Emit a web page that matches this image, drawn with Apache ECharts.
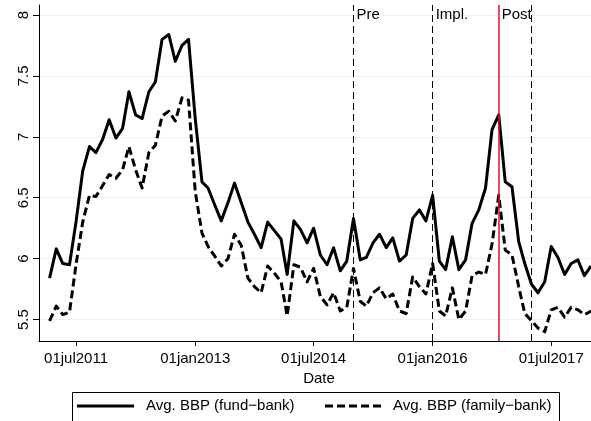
<!DOCTYPE html>
<html>
<head>
<meta charset="utf-8">
<script src="https://cdn.jsdelivr.net/npm/echarts@6/dist/echarts.min.js"></script>
<style>
  html, body { margin: 0; padding: 0; background: #fff; }
  #chart { width: 591px; height: 421px; }
</style>
</head>
<body>
<div id="chart"></div>
<script>
// Monthly averages, March 2011 through January 2018
const firstMonth = { year: 2011, month: 3 };

const fundBank = [
  5.84, 6.08, 5.96, 5.95, 6.30, 6.72, 6.92, 6.87, 6.98, 7.14,             // 2011 (Mar-Dec)
  6.99, 7.07, 7.37, 7.18, 7.15, 7.37, 7.45, 7.80, 7.84, 7.62, 7.75, 7.80, // 2012
  7.15, 6.63, 6.58, 6.44, 6.31, 6.46, 6.62, 6.46, 6.30, 6.20, 6.09, 6.30, // 2013
  6.23, 6.16, 5.87, 6.31, 6.24, 6.13, 6.25, 6.03, 5.95, 6.09, 5.90, 5.98, // 2014
  6.33, 5.99, 6.01, 6.13, 6.20, 6.09, 6.17, 5.98, 6.03, 6.33, 6.40, 6.31, // 2015
  6.52, 5.98, 5.91, 6.18, 5.91, 5.99, 6.29, 6.40, 6.58, 7.06, 7.18, 6.63, // 2016
  6.59, 6.14, 5.96, 5.79, 5.72, 5.81, 6.10, 6.01, 5.87, 5.96, 5.99, 5.86, // 2017
  5.94                                                                    // 2018 (Jan)
];

const familyBank = [
  5.49, 5.61, 5.54, 5.56, 5.95, 6.30, 6.52, 6.51, 6.60, 6.69,             // 2011 (Mar-Dec)
  6.66, 6.73, 6.92, 6.73, 6.58, 6.87, 6.93, 7.17, 7.21, 7.13, 7.32, 7.30, // 2012
  6.55, 6.21, 6.10, 6.02, 5.94, 6.00, 6.20, 6.11, 5.84, 5.77, 5.72, 5.94, // 2013
  5.88, 5.81, 5.53, 5.95, 5.93, 5.81, 5.92, 5.69, 5.62, 5.72, 5.57, 5.60, // 2014
  5.92, 5.65, 5.61, 5.72, 5.76, 5.67, 5.71, 5.57, 5.55, 5.85, 5.77, 5.71, // 2015
  5.96, 5.57, 5.53, 5.76, 5.50, 5.57, 5.86, 5.89, 5.87, 6.12, 6.52, 6.07, // 2016
  6.03, 5.77, 5.55, 5.49, 5.43, 5.40, 5.58, 5.60, 5.52, 5.60, 5.58, 5.54, // 2017
  5.57                                                                    // 2018 (Jan)
];

const seriesNames = ['Avg. BBP (fund\u2212bank)', 'Avg. BBP (family\u2212bank)'];
const yTicks = [5.5, 6, 6.5, 7, 7.5, 8];
const xTickDates = ['2011-07-01', '2013-01-01', '2014-07-01', '2016-01-01', '2017-07-01'];

// Reference dates marked with vertical lines, and their captions
const eventDates = ['2015-01-01', '2016-01-01', '2016-11-01', '2017-04-01'];
const eventLabels = ['Pre', 'Impl.', 'Post', ''];
const policyDate = '2016-11-01';

// ---------------------------------------------------------------------------
const FONT = '"Liberation Sans", Arial, Helvetica, sans-serif';
const DAY = 86400000;
const MON = ['jan','feb','mar','apr','may','jun','jul','aug','sep','oct','nov','dec'];
const RED = '#e0102e';

function ts(s) {
  const p = s.split('-').map(Number);
  return Date.UTC(p[0], p[1] - 1, p[2]);
}
function stataDate(v) {
  const d = new Date(v);
  const dd = String(d.getUTCDate()).padStart(2, '0');
  return dd + MON[d.getUTCMonth()] + d.getUTCFullYear();
}

const monthTimes = fundBank.map((_, i) => Date.UTC(firstMonth.year, firstMonth.month - 1 + i, 1));
const fundData = fundBank.map((v, i) => [monthTimes[i], v]);
const familyData = familyBank.map((v, i) => [monthTimes[i], v]);

// Visible time window of the plot
const anchor = ts('2011-07-01');
const xMin = anchor - 170.7 * DAY;
const xMax = anchor + 2375.5 * DAY;

const dashedDates = eventDates.filter(d => d !== policyDate);
const captionData = eventDates
  .map((d, i) => ({ value: [ts(d), 8], label: { formatter: eventLabels[i] } }))
  .filter((_, i) => eventLabels[i] !== '');

const textBase = { fill: '#000', fontSize: 15, fontFamily: FONT, verticalAlign: 'middle' };

const chart = echarts.init(document.getElementById('chart'), null, { renderer: 'canvas' });

chart.setOption({
  animation: false,
  backgroundColor: '#fff',
  textStyle: { fontFamily: FONT },
  grid: { left: 39, right: 0, top: 5, bottom: 80, containLabel: false },
  xAxis: {
    type: 'value',
    min: xMin,
    max: xMax,
    name: 'Date',
    nameLocation: 'middle',
    nameGap: 23,
    nameTextStyle: { color: '#000', fontSize: 15, fontFamily: FONT, padding: [0, 0, 0, 8] },
    axisLine: { show: true, lineStyle: { color: '#000', width: 1 } },
    axisTick: { show: true, length: 5, customValues: xTickDates.map(ts), lineStyle: { color: '#000' } },
    axisLabel: {
      customValues: xTickDates.map(ts),
      formatter: stataDate,
      color: '#000', fontSize: 15, fontFamily: FONT, margin: 10
    },
    splitLine: { show: false }
  },
  yAxis: {
    type: 'value',
    min: 5.324,
    max: 8.082,
    axisLine: { show: true, lineStyle: { color: '#000', width: 1 } },
    axisTick: { show: true, length: 6, customValues: yTicks, lineStyle: { color: '#000' } },
    axisLabel: {
      customValues: yTicks,
      rotate: 90,
      color: '#000', fontSize: 15, fontFamily: FONT, margin: 8
    },
    splitLine: { show: true, lineStyle: { color: '#eaf2f3', width: 1 } }
  },
  series: [
    {
      name: seriesNames[0],
      type: 'line',
      data: fundData,
      symbol: 'none',
      z: 4,
      lineStyle: { color: '#000', width: 3, join: 'round' },
      markLine: {
        silent: true,
        symbol: 'none',
        label: { show: false },
        lineStyle: { color: '#000', type: [7, 4], width: 1, opacity: 1 },
        data: dashedDates.map(d => ({ xAxis: ts(d) }))
      }
    },
    {
      name: seriesNames[1],
      type: 'line',
      data: familyData,
      symbol: 'none',
      z: 3,
      lineStyle: { color: '#000', width: 3, type: [8, 4], join: 'round' },
      markLine: {
        silent: true,
        symbol: 'none',
        label: { show: false },
        lineStyle: { color: RED, type: 'solid', width: 1.5, opacity: 1 },
        data: [{ xAxis: ts(policyDate) }]
      }
    },
    {
      type: 'scatter',
      silent: true,
      symbolSize: 0,
      itemStyle: { opacity: 1 },
      data: captionData,
      label: {
        show: true, position: 'right', distance: 3,
        color: '#000', fontSize: 15, fontFamily: FONT
      }
    }
  ],
  graphic: [
    {
      type: 'rect', silent: true,
      shape: { x: 72.5, y: 392.5, width: 487, height: 40 },
      style: { fill: '#fff', stroke: '#000', lineWidth: 1 }
    },
    {
      type: 'line', silent: true,
      shape: { x1: 77, y1: 406, x2: 134, y2: 406 },
      style: { stroke: '#000', lineWidth: 3 }
    },
    {
      type: 'text', silent: true, x: 146, y: 406,
      style: Object.assign({ text: seriesNames[0] }, textBase)
    },
    {
      type: 'line', silent: true,
      shape: { x1: 325, y1: 406, x2: 381, y2: 406 },
      style: { stroke: '#000', lineWidth: 3, lineDash: [8, 4] }
    },
    {
      type: 'text', silent: true, x: 393, y: 406,
      style: Object.assign({ text: seriesNames[1] }, textBase)
    }
  ]
});
</script>
</body>
</html>
